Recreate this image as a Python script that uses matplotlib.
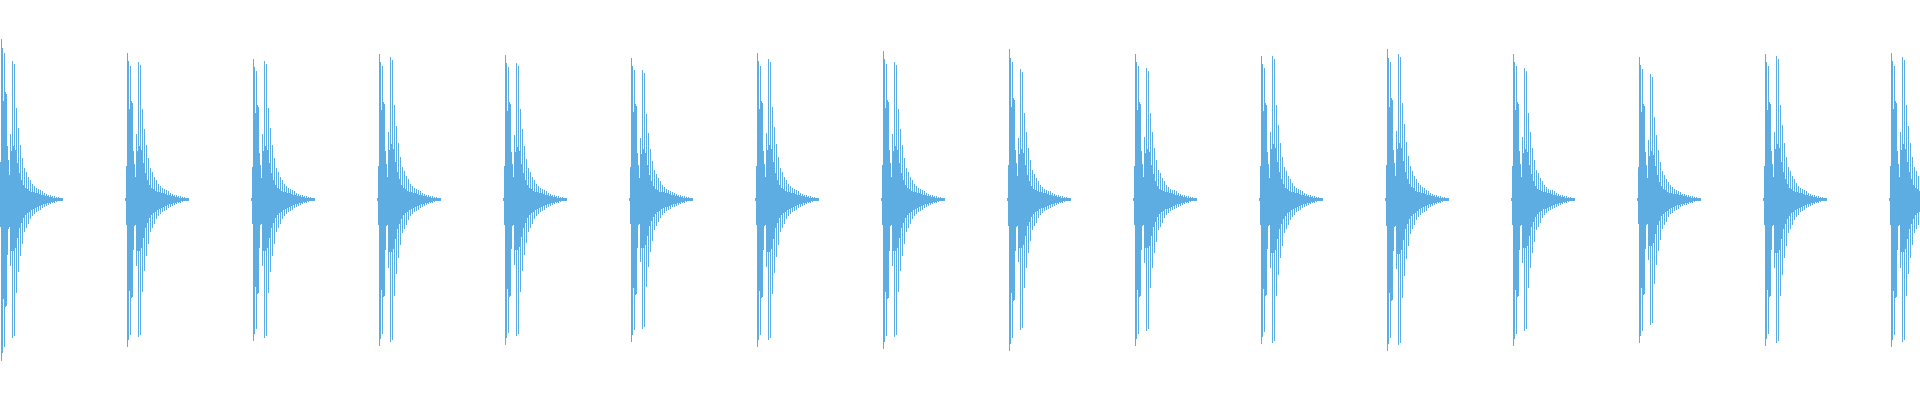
import numpy as np
import matplotlib
matplotlib.use("Agg")
import matplotlib.pyplot as plt

# one click, column by column after the onset (upper / lower extent)
click_up = [1, 32, 140, 132, 86, 128, 94, 92, 46, 34,
            21, 65, 48, 138, 53, 135, 49, 91, 36, 71,
            26, 54, 19, 41, 14, 31, 11, 27, 10, 22,
            8, 19, 7, 15, 7, 13, 6, 11, 6, 10,
            5, 9, 4, 8, 4, 6, 3, 5, 3, 4,
            2, 4, 2, 3, 1, 3, 1, 2, 1, 2,
            1, 1, 1, 1]
click_down = [1, 24, 141, 134, 87, 129, 94, 93, 48, 25,
              24, 66, 51, 138, 51, 136, 48, 93, 38, 72,
              28, 56, 23, 44, 18, 32, 15, 28, 13, 24,
              12, 19, 10, 16, 9, 14, 8, 12, 7, 11,
              6, 10, 5, 8, 4, 7, 4, 6, 3, 5,
              3, 4, 2, 3, 2, 3, 1, 2, 1, 1,
              1, 1, 1, 1]

# where each click starts and how loud its two hits are
onsets = [-2, 124, 250, 376, 502, 628, 754, 880,
          1006, 1132, 1258, 1384, 1510, 1636, 1762, 1888]
hit1 = [160, 146, 140, 145, 144, 141, 146, 148,
        150, 145, 143, 150, 145, 142, 145, 146]
hit2 = [138, 137, 138, 142, 136, 129, 140, 137,
        130, 131, 143, 145, 131, 125, 143, 142]

color = "#5DADE2"

fig = plt.figure(figsize=(19.2, 4), dpi=100)
ax = fig.add_axes([0, 0, 1, 1])

up = np.array(click_up, dtype=float)
down = np.array(click_down, dtype=float)
n = len(up)
for start, a, b in zip(onsets, hit1, hit2):
    gain = np.where(np.arange(n) < 11, a / 140, b / 138)
    x = start + np.arange(n) + 0.5
    ax.vlines(x, -down * gain, up * gain, colors=color,
              linewidth=0.72, antialiased=False)

ax.set_xlim(0, 1920)
ax.set_ylim(-201, 199)
ax.axis("off")

fig.savefig("out.png", dpi=100)
